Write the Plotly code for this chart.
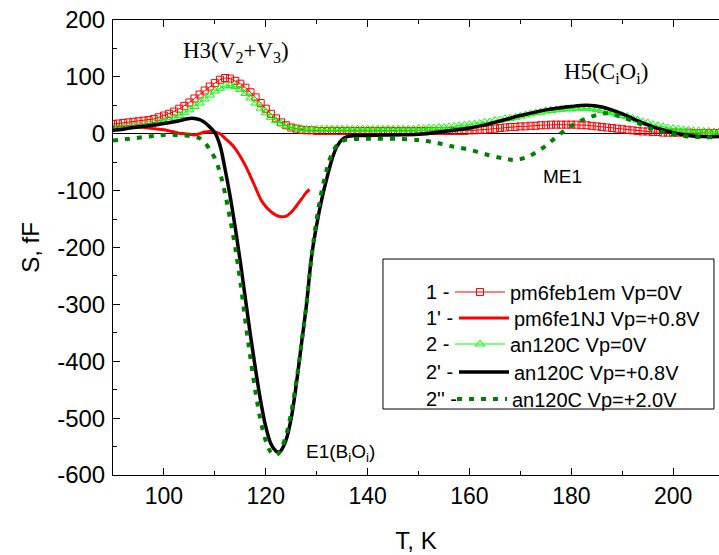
import plotly.graph_objects as go

# ---------------- data ----------------
# 1 - pm6feb1em Vp=0V (red, open squares)
t1 = list(range(90, 210))
s1 = [17, 18, 19, 20, 21, 22, 23, 24, 26, 29,
      32, 35, 39, 44, 49, 55, 62, 69, 76, 83,
      89, 95, 98, 97, 93, 88, 81, 73, 64, 54,
      44, 35, 27, 20, 15, 11, 9, 7, 6, 6,
      5, 5, 5, 5, 5, 5, 5, 5, 5, 5,
      5, 5, 5, 5, 5, 5, 5, 5, 5, 5,
      5, 5, 5, 5, 5, 5, 5, 5, 5, 5,
      6, 6, 7, 7, 8, 9, 10, 11, 12, 12,
      13, 13, 14, 14, 15, 15, 16, 16, 16, 16,
      16, 16, 15, 15, 14, 13, 12, 11, 10, 9,
      8, 7, 6, 5, 4, 4, 3, 3, 2, 2,
      2, 2, 2, 2, 1, 1, 1, 1, 1, 1]

# 1' - pm6fe1NJ Vp=+0.8V (red solid)
t1p = [90, 92, 94, 96, 97, 98, 100, 101, 102, 103, 104, 105, 106, 107, 108, 109,
       110, 111, 112, 113, 114, 115, 116, 117, 118, 119, 120, 121, 122, 123, 124,
       125, 126, 127, 128, 128.6]
s1p = [12, 12, 12, 11, 10, 9, 7, 5, 3, 1, 0, -1, -2, 0, 3, 4,
       3, 0, -8, -16, -26, -40, -56, -75, -95, -115, -128, -137, -143, -146, -145,
       -138, -127, -115, -103, -98]

# 2 - an120C Vp=0V (green, open triangles)
t2 = list(range(90, 210))
s2 = [10, 10, 11, 12, 13, 14, 15, 16, 18, 20,
      22, 25, 28, 32, 37, 42, 48, 54, 61, 68,
      75, 80, 84, 85, 83, 78, 71, 63, 54, 45,
      37, 29, 23, 18, 14, 11, 10, 9, 8, 8,
      8, 8, 8, 8, 8, 8, 8, 8, 8, 8,
      8, 8, 8, 8, 8, 8, 8, 8, 8, 8,
      9, 9, 10, 10, 11, 11, 12, 13, 14, 15,
      16, 17, 18, 20, 21, 23, 24, 26, 27, 29,
      31, 33, 35, 37, 38, 40, 41, 42, 43, 44,
      44, 45, 45, 45, 44, 43, 41, 39, 37, 35,
      32, 30, 27, 24, 21, 19, 16, 14, 12, 10,
      9, 8, 7, 6, 5, 5, 4, 4, 3, 3]

# 2' - an120C Vp=+0.8V (black solid)
t2p = [90, 92, 94, 96, 98, 100, 102, 104, 105, 106, 107, 108, 109, 110, 111, 112,
       113, 114, 115, 116, 117, 118, 119, 120, 121, 122, 122.6, 123, 124, 125, 126,
       127, 128, 129, 130, 131, 132, 133, 134, 135, 136, 138, 140, 145, 150, 155,
       160, 165, 170, 175, 180, 183, 186, 190, 193, 196, 200, 203, 206, 209]
s2p = [6, 8, 11, 13, 15, 18, 21, 25, 27, 27, 25, 20, 12, 2, -20, -62,
       -110, -165, -225, -290, -355, -415, -470, -515, -545, -558, -560, -557, -538, -500, -440,
       -370, -300, -215, -160, -115, -78, -45, -22, -10, -5, -3, -3, -2, -1, 4,
       10, 20, 32, 42, 48, 50, 47, 35, 23, 12, 2, -3, -5, -5]

# 2'' - an120C Vp=+2.0V (dark green dotted)
t2pp = [90, 92, 94, 96, 98, 100, 102, 104, 106, 107, 108, 109, 110, 111, 112, 113,
        114, 115, 116, 117, 118, 119, 120, 121, 121.8, 122.5, 123, 124, 125, 126, 127,
        128, 129, 130, 131, 132, 133, 134, 135, 136, 140, 145, 150, 153, 156, 160,
        164, 167, 169, 171, 173, 175, 177, 179, 181, 183, 185, 187, 189, 191, 193,
        195, 197, 200, 203, 206, 209]
s2pp = [-12, -10, -8, -6, -4, -2, -2, -3, -5, -8, -15, -28, -43, -68, -105, -150,
        -200, -260, -330, -395, -455, -505, -540, -560, -565, -562, -555, -530, -490, -435, -370,
        -298, -215, -150, -100, -62, -35, -20, -13, -10, -9, -9, -11, -15, -21, -28,
        -38, -44, -46, -42, -33, -21, -6, 8, 19, 27, 33, 36, 32, 26, 19,
        11, 5, -1, -5, -6, -6]

names = ["pm6feb1em Vp=0V", "pm6fe1NJ Vp=+0.8V", "an120C Vp=0V",
         "an120C Vp=+0.8V", "an120C Vp=+2.0V"]
prefixes = ["1 -", "1' -", "2 -", "2' -", "2'' -"]

x_ticks = [100, 120, 140, 160, 180, 200]
y_ticks = [-600, -500, -400, -300, -200, -100, 0, 100, 200]
y_ticktext = ["-600", "-500", "-400", "-300", "-200", "-100", "0", "100", "200"]

# ---------------- figure ----------------
legend_ids = ["legend", "legend2", "legend3", "legend4", "legend5"]
fig = go.Figure()

fig.add_trace(go.Scatter(
    x=t1, y=s1, name=names[0], mode="lines+markers", legend=legend_ids[0],
    line=dict(color="#ff0000", width=1),
    marker=dict(symbol="square-open", size=7, color="#ff0000", line=dict(width=1))))
fig.add_trace(go.Scatter(
    x=t1p, y=s1p, name=names[1], mode="lines", legend=legend_ids[1],
    line=dict(color="#ff0000", width=3, shape="spline")))
fig.add_trace(go.Scatter(
    x=t2, y=s2, name=names[2], mode="lines+markers", legend=legend_ids[2],
    line=dict(color="#00ff00", width=1),
    marker=dict(symbol="triangle-up-open", size=8, color="#00ff00", line=dict(width=1))))
fig.add_trace(go.Scatter(
    x=t2p, y=s2p, name=names[3], mode="lines", legend=legend_ids[3],
    line=dict(color="#000000", width=3.5, shape="spline")))
fig.add_trace(go.Scatter(
    x=t2pp, y=s2pp, name=names[4], mode="lines", legend=legend_ids[4],
    line=dict(color="#008000", width=4, dash="5px,7px", shape="spline")))

axis_font = dict(family="Liberation Sans, Arial, sans-serif", size=23, color="black")
yaxis_font = dict(family="Liberation Sans, Arial, sans-serif", size=24, color="black")
title_font = dict(family="Liberation Sans, Arial, sans-serif", size=24, color="black")

fig.update_xaxes(
    range=[90, 209], tickvals=x_ticks, ticks="inside", ticklen=7, tickwidth=1,
    tickcolor="black", showline=True, linecolor="black", linewidth=1,
    mirror="ticks", showgrid=False, zeroline=False,
    minor=dict(dtick=10, tick0=90, ticks="inside", ticklen=4, tickcolor="black"),
    tickfont=axis_font,
    title=dict(text="T, K", font=title_font, standoff=24))
fig.update_yaxes(
    range=[-600, 200], tickvals=y_ticks, ticktext=y_ticktext,
    ticks="inside", ticklen=7, tickwidth=1,
    tickcolor="black", showline=True, linecolor="black", linewidth=1,
    mirror=False, showgrid=False,
    zeroline=True, zerolinecolor="black", zerolinewidth=1,
    minor=dict(dtick=50, tick0=0, ticks="inside", ticklen=4, tickcolor="black"),
    tickfont=yaxis_font, ticklabelstandoff=2,
    title=dict(text="S, fF", font=title_font, standoff=10))

# legend frame
fig.add_shape(type="rect", xref="paper", yref="paper",
              x0=0.4455, x1=0.9917, y0=0.145, y1=0.4747,
              line=dict(color="black", width=1), fillcolor="white", layer="below")

row_y = [0.4022, 0.3451, 0.2879, 0.2264, 0.1670]
row_x = [0.5561, 0.5627, 0.5561, 0.5627, 0.5594]
legend_font = dict(family="Liberation Sans, Arial, sans-serif", size=20, color="black")
for p, yy in zip(prefixes, row_y):
    fig.add_annotation(text=p, xref="paper", yref="paper", x=0.513, y=yy,
                       xanchor="left", yanchor="middle", showarrow=False,
                       font=legend_font)

legend_layout = {}
for lid, xx, yy in zip(legend_ids, row_x, row_y):
    legend_layout[lid] = dict(x=xx, y=yy, xanchor="left", yanchor="middle",
                              bgcolor="rgba(0,0,0,0)", borderwidth=0,
                              font=legend_font, itemwidth=50)

serif = dict(family="Liberation Serif, Times New Roman, serif", size=23, color="black")
sans = dict(family="Liberation Sans, Arial, sans-serif", size=19, color="black")
fig.add_annotation(text="H3(V<sub>2</sub>+V<sub>3</sub>)", x=114.2, y=144, showarrow=False, font=serif)
fig.add_annotation(text="H5(C<sub>i</sub>O<sub>i</sub>)", x=186.9, y=107, showarrow=False, font=serif)
fig.add_annotation(text="ME1", x=178.3, y=-76, showarrow=False, font=sans)
fig.add_annotation(text="E1(B<sub>i</sub>O<sub>i</sub>)", x=134.6, y=-562, showarrow=False, font=sans)

fig.update_layout(
    width=719, height=555,
    margin=dict(l=113, r=0, t=20, b=80),
    plot_bgcolor="white", paper_bgcolor="white",
    showlegend=True,
    **legend_layout,
)

fig.write_html("out.html")
